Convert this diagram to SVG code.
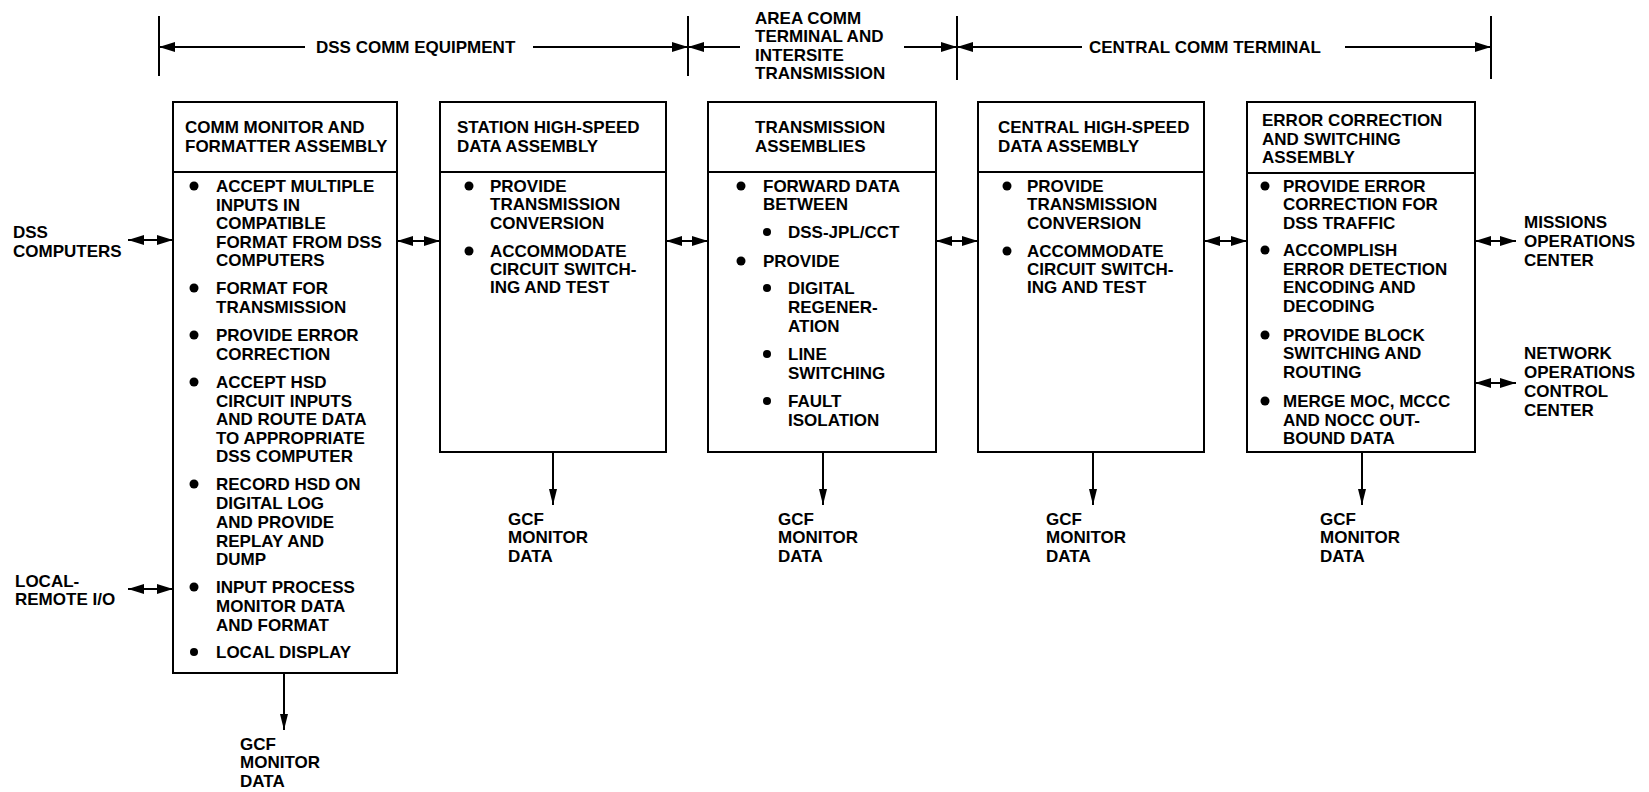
<svg xmlns="http://www.w3.org/2000/svg" width="1649" height="792" viewBox="0 0 1649 792">
<defs>
<style>
text{font-family:"Liberation Sans",Arial,sans-serif;font-size:17px;font-weight:bold;fill:#000}
.box{fill:#fff;stroke:#000;stroke-width:2}
.div{stroke:#000;stroke-width:2}
.ln{stroke:#000;stroke-width:2;fill:none}
.tick{stroke:#000;stroke-width:2}
.dot{fill:#000}
</style>
<marker id="ah" viewBox="0 0 16 10" refX="16" refY="5" markerWidth="16" markerHeight="10" markerUnits="userSpaceOnUse" orient="auto-start-reverse"><path d="M0,0 L16,5 L0,10 z" fill="#000"/></marker>
<marker id="ahd" viewBox="0 0 16 8" refX="16" refY="4" markerWidth="16" markerHeight="8" markerUnits="userSpaceOnUse" orient="auto-start-reverse"><path d="M0,0 L16,4 L0,8 z" fill="#000"/></marker>
</defs>
<rect width="1649" height="792" fill="#fff"/>

<g id="brackets">
<line class="tick" x1="159" y1="16" x2="159" y2="76"/>
<line class="tick" x1="688" y1="16" x2="688" y2="76"/>
<line class="tick" x1="957" y1="16" x2="957" y2="80"/>
<line class="tick" x1="1491" y1="16" x2="1491" y2="79"/>
<line class="ln" x1="159" y1="47" x2="305" y2="47" marker-start="url(#ah)"/>
<line class="ln" x1="533" y1="47" x2="688" y2="47" marker-end="url(#ah)"/>
<line class="ln" x1="688" y1="47" x2="740" y2="47" marker-start="url(#ah)"/>
<line class="ln" x1="904" y1="47" x2="957" y2="47" marker-end="url(#ah)"/>
<line class="ln" x1="957" y1="47" x2="1082" y2="47" marker-start="url(#ah)"/>
<line class="ln" x1="1345" y1="47" x2="1491" y2="47" marker-end="url(#ah)"/>
<text x="316" y="53">DSS COMM EQUIPMENT</text>
<text x="755" y="24">AREA COMM</text>
<text x="755" y="42">TERMINAL AND</text>
<text x="755" y="61">INTERSITE</text>
<text x="755" y="79">TRANSMISSION</text>
<text x="1089" y="53">CENTRAL COMM TERMINAL</text>
</g>

<g id="node-cmfa">
<rect class="box" x="173" y="102" width="224" height="571"/>
<line class="div" x1="173" y1="172" x2="397" y2="172"/>
<text x="185" y="133">COMM MONITOR AND</text>
<text x="185" y="152">FORMATTER ASSEMBLY</text>
<circle class="dot" cx="194" cy="186" r="4.5"/>
<circle class="dot" cx="194" cy="288" r="4.5"/>
<circle class="dot" cx="194" cy="335" r="4.5"/>
<circle class="dot" cx="194" cy="382" r="4.5"/>
<circle class="dot" cx="194" cy="484" r="4.5"/>
<circle class="dot" cx="194" cy="587" r="4.5"/>
<circle class="dot" cx="194" cy="652" r="4"/>
<text x="216" y="192">ACCEPT MULTIPLE</text>
<text x="216" y="210.5">INPUTS IN</text>
<text x="216" y="229">COMPATIBLE</text>
<text x="216" y="247.5">FORMAT FROM DSS</text>
<text x="216" y="266">COMPUTERS</text>
<text x="216" y="294">FORMAT FOR</text>
<text x="216" y="313">TRANSMISSION</text>
<text x="216" y="341">PROVIDE ERROR</text>
<text x="216" y="360">CORRECTION</text>
<text x="216" y="388">ACCEPT HSD</text>
<text x="216" y="407">CIRCUIT INPUTS</text>
<text x="216" y="425">AND ROUTE DATA</text>
<text x="216" y="444">TO APPROPRIATE</text>
<text x="216" y="462">DSS COMPUTER</text>
<text x="216" y="490">RECORD HSD ON</text>
<text x="216" y="509">DIGITAL LOG</text>
<text x="216" y="528">AND PROVIDE</text>
<text x="216" y="547">REPLAY AND</text>
<text x="216" y="565">DUMP</text>
<text x="216" y="593">INPUT PROCESS</text>
<text x="216" y="612">MONITOR DATA</text>
<text x="216" y="631">AND FORMAT</text>
<text x="216" y="658">LOCAL DISPLAY</text>
</g>

<g id="node-shsda">
<rect class="box" x="440" y="102" width="226" height="350"/>
<line class="div" x1="440" y1="172" x2="666" y2="172"/>
<text x="457" y="133">STATION HIGH-SPEED</text>
<text x="457" y="152">DATA ASSEMBLY</text>
<circle class="dot" cx="469" cy="186" r="4.5"/>
<circle class="dot" cx="469" cy="251" r="4.5"/>
<text x="490" y="192">PROVIDE</text>
<text x="490" y="210">TRANSMISSION</text>
<text x="490" y="229">CONVERSION</text>
<text x="490" y="257">ACCOMMODATE</text>
<text x="490" y="275">CIRCUIT SWITCH-</text>
<text x="490" y="293">ING AND TEST</text>
</g>

<g id="node-ta">
<rect class="box" x="708" y="102" width="228" height="350"/>
<line class="div" x1="708" y1="172" x2="936" y2="172"/>
<text x="755" y="133">TRANSMISSION</text>
<text x="755" y="152">ASSEMBLIES</text>
<circle class="dot" cx="741" cy="186" r="4.5"/>
<circle class="dot" cx="767" cy="232" r="4"/>
<circle class="dot" cx="741" cy="261" r="4.5"/>
<circle class="dot" cx="767" cy="288" r="4"/>
<circle class="dot" cx="767" cy="354" r="4"/>
<circle class="dot" cx="767" cy="401" r="4"/>
<text x="763" y="192">FORWARD DATA</text>
<text x="763" y="210">BETWEEN</text>
<text x="788" y="238">DSS-JPL/CCT</text>
<text x="763" y="267">PROVIDE</text>
<text x="788" y="294">DIGITAL</text>
<text x="788" y="313">REGENER-</text>
<text x="788" y="332">ATION</text>
<text x="788" y="360">LINE</text>
<text x="788" y="379">SWITCHING</text>
<text x="788" y="407">FAULT</text>
<text x="788" y="426">ISOLATION</text>
</g>

<g id="node-chsda">
<rect class="box" x="978" y="102" width="226" height="350"/>
<line class="div" x1="978" y1="172" x2="1204" y2="172"/>
<text x="998" y="133">CENTRAL HIGH-SPEED</text>
<text x="998" y="152">DATA ASSEMBLY</text>
<circle class="dot" cx="1007" cy="186" r="4.5"/>
<circle class="dot" cx="1007" cy="251" r="4.5"/>
<text x="1027" y="192">PROVIDE</text>
<text x="1027" y="210">TRANSMISSION</text>
<text x="1027" y="229">CONVERSION</text>
<text x="1027" y="257">ACCOMMODATE</text>
<text x="1027" y="275">CIRCUIT SWITCH-</text>
<text x="1027" y="293">ING AND TEST</text>
</g>

<g id="node-ecsa">
<rect class="box" x="1247" y="102" width="228" height="350"/>
<line class="div" x1="1247" y1="173" x2="1475" y2="173"/>
<text x="1262" y="126">ERROR CORRECTION</text>
<text x="1262" y="145">AND SWITCHING</text>
<text x="1262" y="163">ASSEMBLY</text>
<circle class="dot" cx="1265" cy="186" r="4.5"/>
<circle class="dot" cx="1265" cy="250" r="4.5"/>
<circle class="dot" cx="1265" cy="335" r="4.5"/>
<circle class="dot" cx="1265" cy="401" r="4.5"/>
<text x="1283" y="192">PROVIDE ERROR</text>
<text x="1283" y="210">CORRECTION FOR</text>
<text x="1283" y="229">DSS TRAFFIC</text>
<text x="1283" y="256">ACCOMPLISH</text>
<text x="1283" y="275">ERROR DETECTION</text>
<text x="1283" y="293">ENCODING AND</text>
<text x="1283" y="312">DECODING</text>
<text x="1283" y="341">PROVIDE BLOCK</text>
<text x="1283" y="359">SWITCHING AND</text>
<text x="1283" y="378">ROUTING</text>
<text x="1283" y="407">MERGE MOC, MCCC</text>
<text x="1283" y="426">AND NOCC OUT-</text>
<text x="1283" y="444">BOUND DATA</text>
</g>

<g id="ext-dss-computers">
<text x="13" y="238">DSS</text>
<text x="13" y="257">COMPUTERS</text>
</g>
<g id="ext-local-remote">
<text x="15" y="587">LOCAL-</text>
<text x="15" y="605">REMOTE I/O</text>
</g>
<g id="ext-moc">
<text x="1524" y="228">MISSIONS</text>
<text x="1524" y="247">OPERATIONS</text>
<text x="1524" y="266">CENTER</text>
</g>
<g id="ext-nocc">
<text x="1524" y="359">NETWORK</text>
<text x="1524" y="378">OPERATIONS</text>
<text x="1524" y="397">CONTROL</text>
<text x="1524" y="416">CENTER</text>
</g>
<g id="gcf-labels">
<text x="240" y="750">GCF</text>
<text x="240" y="768">MONITOR</text>
<text x="240" y="787">DATA</text>
<text x="508" y="525">GCF</text>
<text x="508" y="543">MONITOR</text>
<text x="508" y="562">DATA</text>
<text x="778" y="525">GCF</text>
<text x="778" y="543">MONITOR</text>
<text x="778" y="562">DATA</text>
<text x="1046" y="525">GCF</text>
<text x="1046" y="543">MONITOR</text>
<text x="1046" y="562">DATA</text>
<text x="1320" y="525">GCF</text>
<text x="1320" y="543">MONITOR</text>
<text x="1320" y="562">DATA</text>
</g>

<g id="connectors">
<line class="ln" x1="128" y1="240" x2="173" y2="240" marker-start="url(#ah)" marker-end="url(#ah)"/>
<line class="ln" x1="128" y1="589" x2="173" y2="589" marker-start="url(#ah)" marker-end="url(#ah)"/>
<line class="ln" x1="397" y1="241" x2="440" y2="241" marker-start="url(#ah)" marker-end="url(#ah)"/>
<line class="ln" x1="666" y1="241" x2="708" y2="241" marker-start="url(#ah)" marker-end="url(#ah)"/>
<line class="ln" x1="936" y1="241" x2="978" y2="241" marker-start="url(#ah)" marker-end="url(#ah)"/>
<line class="ln" x1="1204" y1="241" x2="1247" y2="241" marker-start="url(#ah)" marker-end="url(#ah)"/>
<line class="ln" x1="1475" y1="241" x2="1516" y2="241" marker-start="url(#ah)" marker-end="url(#ah)"/>
<line class="ln" x1="1475" y1="383" x2="1516" y2="383" marker-start="url(#ah)" marker-end="url(#ah)"/>
<line class="ln" x1="284" y1="673" x2="284" y2="730" marker-end="url(#ahd)"/>
<line class="ln" x1="553" y1="452" x2="553" y2="505" marker-end="url(#ahd)"/>
<line class="ln" x1="823" y1="452" x2="823" y2="505" marker-end="url(#ahd)"/>
<line class="ln" x1="1093" y1="452" x2="1093" y2="505" marker-end="url(#ahd)"/>
<line class="ln" x1="1362" y1="452" x2="1362" y2="505" marker-end="url(#ahd)"/>
</g>
</svg>
